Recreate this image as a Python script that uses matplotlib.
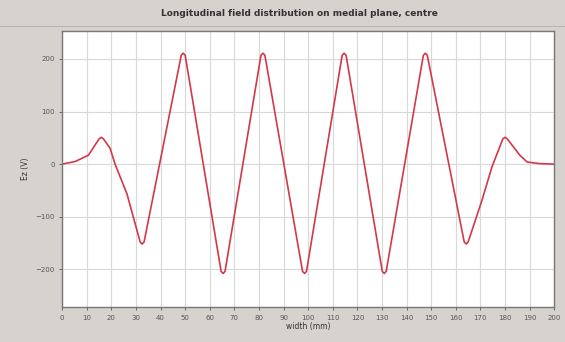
import matplotlib
matplotlib.use("Agg")
import matplotlib.pyplot as plt

# field profile (x in mm, Ez)
width_mm = [0, 5.3, 10.7, 15.0, 15.9, 16.8, 19.5, 21.5, 26.3, 31.7, 32.5, 33.3,
            48.4, 49.2, 50.0, 64.6, 65.4, 66.2, 80.8, 81.6, 82.4, 97.7, 98.5, 99.3,
            113.8, 114.6, 115.4, 130.1, 130.9, 131.7, 146.8, 147.6, 148.4,
            163.4, 164.2, 165.0, 170.6, 174.7, 179.1, 180.0, 180.9, 186.0, 189.0,
            194.0, 200]
ez = [0, 5, 17, 48, 51, 48, 30, 0, -56, -148, -152, -148,
      207, 211, 207, -204, -208, -204, 207, 211, 207, -204, -208, -204,
      207, 211, 207, -204, -208, -204, 207, 211, 207,
      -148, -152, -148, -69, -5, 48, 51, 48, 17, 4,
      1, 0]

x_ticks = list(range(0, 201, 10))
y_ticks = [-200, -100, 0, 100, 200]

fig = plt.figure(figsize=(5.65, 3.42), dpi=100)
fig.patch.set_facecolor("#d6d3ce")

ax = fig.add_axes([0.110, 0.102, 0.871, 0.807])
ax.set_facecolor("white")

ax.plot(width_mm, ez, color="#d2384a", lw=1.2)

ax.set_xlim(0, 200)
ax.set_ylim(-272, 253)
ax.set_xticks(x_ticks)
ax.set_yticks(y_ticks)
ax.grid(True, color="#d8d8d8", lw=0.8)
ax.tick_params(labelsize=5, colors="#555555", length=2, width=0.6)
for s in ax.spines.values():
    s.set_color("#777777")
    s.set_linewidth(1.0)

ax.set_xlabel("width (mm)", fontsize=5.5, color="#333333", labelpad=1)
ax.set_ylabel("Ez (V)", fontsize=5.5, color="#333333", labelpad=4)

fig.text(0.53, 0.96, "Longitudinal field distribution on medial plane, centre",
         ha="center", va="center", fontsize=6.5, fontweight="bold", color="#333333")
fig.add_artist(plt.Line2D([0.0, 1.0], [0.925, 0.925], color="#b8b5b0", lw=0.8))

fig.savefig("out.png", dpi=100, facecolor=fig.get_facecolor())
